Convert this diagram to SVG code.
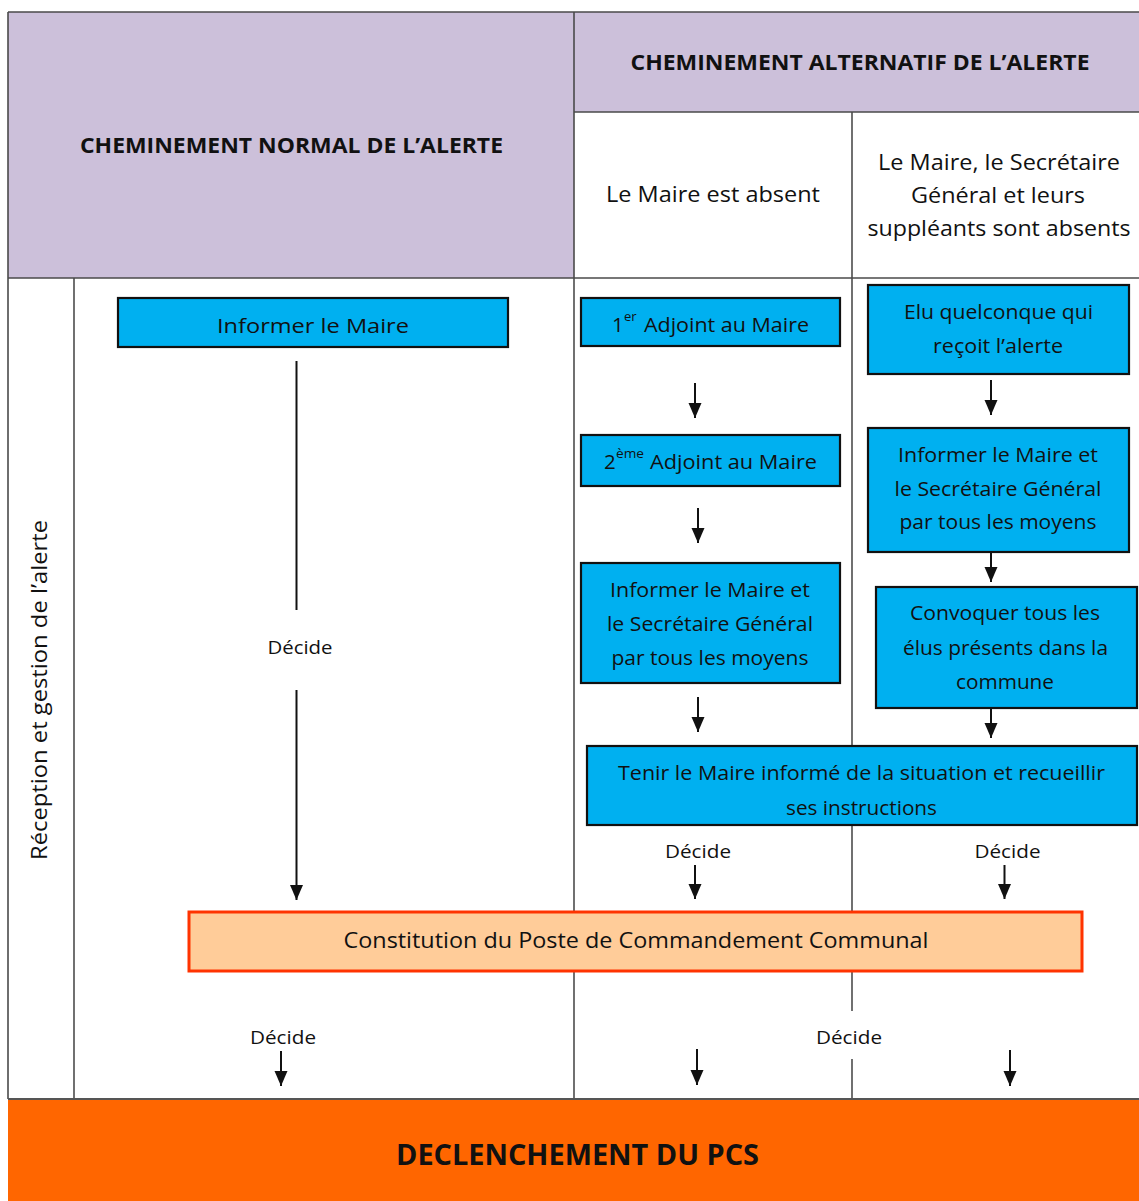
<svg xmlns="http://www.w3.org/2000/svg" width="1139" height="1201" viewBox="0 0 1139 1201">
  <style>
    text { font-family: "Open Sans", "Liberation Sans", sans-serif; fill: #111; }
    .hdr { font-size: 22px; font-weight: bold; text-anchor: middle; }
    .sub { font-size: 22px; text-anchor: middle; }
    .bx { font-size: 20.5px; text-anchor: middle; }
    .dec { font-size: 18.5px; text-anchor: middle; }
    .sup { font-size: 13px; }
    .blue { fill: #00B0F0; stroke: #111; stroke-width: 2.2; }
    .grid { stroke: #111; stroke-width: 1.2; fill: none; }
    .frame { stroke: #4a4a4a; stroke-width: 1.6; fill: none; }
    .conn { stroke: #111; stroke-width: 2; fill: none; }
  </style>
  <defs>
    <marker id="ah" markerUnits="userSpaceOnUse" markerWidth="15" markerHeight="14" refX="15" refY="6.5" orient="auto">
      <path d="M0,0 L15,6.5 L0,13 z" fill="#111"/>
    </marker>
  </defs>

  <rect x="0" y="0" width="1139" height="1201" fill="#fff"/>

  <!-- table background -->
  <g id="table">
    <rect x="8" y="12" width="566" height="266" fill="#CCC0DA"/>
    <rect x="574" y="12" width="565" height="100" fill="#CCC0DA"/>
    <line class="grid" x1="74" y1="278" x2="74" y2="1099"/>
    <line class="grid" x1="574" y1="278" x2="574" y2="1099"/>
    <line class="grid" x1="852" y1="112" x2="852" y2="1011"/>
    <line class="grid" x1="852" y1="1059" x2="852" y2="1099"/>
    <line class="frame" x1="8" y1="12" x2="1139" y2="12"/>
    <line class="frame" x1="8" y1="12" x2="8" y2="1099"/>
    <line class="frame" x1="574" y1="12" x2="574" y2="278"/>
    <line class="frame" x1="574" y1="112" x2="1139" y2="112"/>
    <line class="frame" x1="8" y1="278" x2="1139" y2="278"/>
  </g>

  <g id="header-normal">
    <text class="hdr" x="291.5" y="153" textLength="423" lengthAdjust="spacingAndGlyphs">CHEMINEMENT NORMAL DE L’ALERTE</text>
  </g>
  <g id="header-alternatif">
    <text class="hdr" x="860" y="70" textLength="459" lengthAdjust="spacingAndGlyphs">CHEMINEMENT ALTERNATIF DE L’ALERTE</text>
  </g>
  <g id="sub-maire-absent">
    <text class="sub" x="713" y="202" textLength="214" lengthAdjust="spacingAndGlyphs">Le Maire est absent</text>
  </g>
  <g id="sub-tous-absents">
    <text class="sub" x="999" y="170" textLength="242" lengthAdjust="spacingAndGlyphs">Le Maire, le Secrétaire</text>
    <text class="sub" x="998" y="203" textLength="174" lengthAdjust="spacingAndGlyphs">Général et leurs</text>
    <text class="sub" x="999" y="236" textLength="263" lengthAdjust="spacingAndGlyphs">suppléants sont absents</text>
  </g>
  <g id="row-label">
    <text class="sub" transform="translate(47,690) rotate(-90)" x="0" y="0" textLength="340" lengthAdjust="spacingAndGlyphs">Réception et gestion de l’alerte</text>
  </g>

  <!-- connectors -->
  <g id="connectors">
    <line class="conn" x1="296.5" y1="361" x2="296.5" y2="610"/>
    <line class="conn" x1="296.5" y1="690" x2="296.5" y2="900" marker-end="url(#ah)"/>
    <line class="conn" x1="695" y1="383" x2="695" y2="418" marker-end="url(#ah)"/>
    <line class="conn" x1="698" y1="508" x2="698" y2="543" marker-end="url(#ah)"/>
    <line class="conn" x1="698" y1="697" x2="698" y2="732" marker-end="url(#ah)"/>
    <line class="conn" x1="991" y1="380" x2="991" y2="415" marker-end="url(#ah)"/>
    <line class="conn" x1="991" y1="553" x2="991" y2="582" marker-end="url(#ah)"/>
    <line class="conn" x1="991" y1="708" x2="991" y2="738" marker-end="url(#ah)"/>
    <line class="conn" x1="695" y1="865" x2="695" y2="899" marker-end="url(#ah)"/>
    <line class="conn" x1="1004.5" y1="865" x2="1004.5" y2="899" marker-end="url(#ah)"/>
    <line class="conn" x1="281" y1="1051" x2="281" y2="1086" marker-end="url(#ah)"/>
    <line class="conn" x1="697" y1="1049" x2="697" y2="1085" marker-end="url(#ah)"/>
    <line class="conn" x1="1010" y1="1050" x2="1010" y2="1086" marker-end="url(#ah)"/>
    <text class="dec" x="300" y="654" textLength="65" lengthAdjust="spacingAndGlyphs">Décide</text>
    <text class="dec" x="698" y="858" textLength="66" lengthAdjust="spacingAndGlyphs">Décide</text>
    <text class="dec" x="1007.5" y="858" textLength="66" lengthAdjust="spacingAndGlyphs">Décide</text>
    <text class="dec" x="283" y="1044" textLength="66" lengthAdjust="spacingAndGlyphs">Décide</text>
    <text class="dec" x="849" y="1044" textLength="66" lengthAdjust="spacingAndGlyphs">Décide</text>
  </g>

  <!-- nodes -->
  <g id="informer-maire">
    <rect class="blue" x="118" y="298" width="390" height="49"/>
    <text class="bx" x="313" y="333" textLength="192" lengthAdjust="spacingAndGlyphs">Informer le Maire</text>
  </g>
  <g id="adjoint-1">
    <rect class="blue" x="581" y="298" width="259" height="48"/>
    <text x="612" y="332" style="font-size:20.5px">1</text>
    <text class="sup" x="624" y="321">er</text>
    <text x="644" y="332" style="font-size:20.5px" textLength="165" lengthAdjust="spacingAndGlyphs">Adjoint au Maire</text>
  </g>
  <g id="adjoint-2">
    <rect class="blue" x="581" y="435" width="259" height="51"/>
    <text x="604" y="469" style="font-size:20.5px">2</text>
    <text class="sup" x="616" y="458" textLength="28" lengthAdjust="spacingAndGlyphs">ème</text>
    <text x="650" y="469" style="font-size:20.5px" textLength="167" lengthAdjust="spacingAndGlyphs">Adjoint au Maire</text>
  </g>
  <g id="informer-maire-sg-1">
    <rect class="blue" x="581" y="563" width="259" height="120"/>
    <text class="bx" x="710" y="597" textLength="200" lengthAdjust="spacingAndGlyphs">Informer le Maire et</text>
    <text class="bx" x="710" y="631" textLength="206" lengthAdjust="spacingAndGlyphs">le Secrétaire Général</text>
    <text class="bx" x="710" y="665" textLength="197" lengthAdjust="spacingAndGlyphs">par tous les moyens</text>
  </g>
  <g id="elu-quelconque">
    <rect class="blue" x="868" y="285" width="261" height="89"/>
    <text class="bx" x="998.5" y="319" textLength="189" lengthAdjust="spacingAndGlyphs">Elu quelconque qui</text>
    <text class="bx" x="998" y="353" textLength="130" lengthAdjust="spacingAndGlyphs">reçoit l’alerte</text>
  </g>
  <g id="informer-maire-sg-2">
    <rect class="blue" x="868" y="428" width="261" height="124"/>
    <text class="bx" x="998" y="462" textLength="200" lengthAdjust="spacingAndGlyphs">Informer le Maire et</text>
    <text class="bx" x="998" y="496" textLength="207" lengthAdjust="spacingAndGlyphs">le Secrétaire Général</text>
    <text class="bx" x="998" y="529" textLength="197" lengthAdjust="spacingAndGlyphs">par tous les moyens</text>
  </g>
  <g id="convoquer-elus">
    <rect class="blue" x="876" y="587" width="261" height="121"/>
    <text class="bx" x="1005" y="620" textLength="190" lengthAdjust="spacingAndGlyphs">Convoquer tous les</text>
    <text class="bx" x="1005.5" y="655" textLength="205" lengthAdjust="spacingAndGlyphs">élus présents dans la</text>
    <text class="bx" x="1005" y="689" textLength="98" lengthAdjust="spacingAndGlyphs">commune</text>
  </g>
  <g id="tenir-maire-informe">
    <rect class="blue" x="587" y="746" width="550" height="79"/>
    <text class="bx" x="861.5" y="780" textLength="487" lengthAdjust="spacingAndGlyphs">Tenir le Maire informé de la situation et recueillir</text>
    <text class="bx" x="861.5" y="815" textLength="151" lengthAdjust="spacingAndGlyphs">ses instructions</text>
  </g>
  <g id="constitution-pcc">
    <rect x="189" y="912" width="893" height="59" fill="#FFCC99" stroke="#FF3300" stroke-width="3"/>
    <text class="bx" x="636" y="948" style="font-size:21.5px" textLength="585" lengthAdjust="spacingAndGlyphs">Constitution du Poste de Commandement Communal</text>
  </g>
  <g id="declenchement-pcs">
    <rect x="8" y="1099" width="1131" height="102" fill="#FF6600"/>
    <line x1="8" y1="1099" x2="1139" y2="1099" stroke="#555" stroke-width="2"/>
    <text x="577.5" y="1165" style="font-size:28px;font-weight:bold;text-anchor:middle" textLength="363" lengthAdjust="spacingAndGlyphs">DECLENCHEMENT DU PCS</text>
  </g>
</svg>
